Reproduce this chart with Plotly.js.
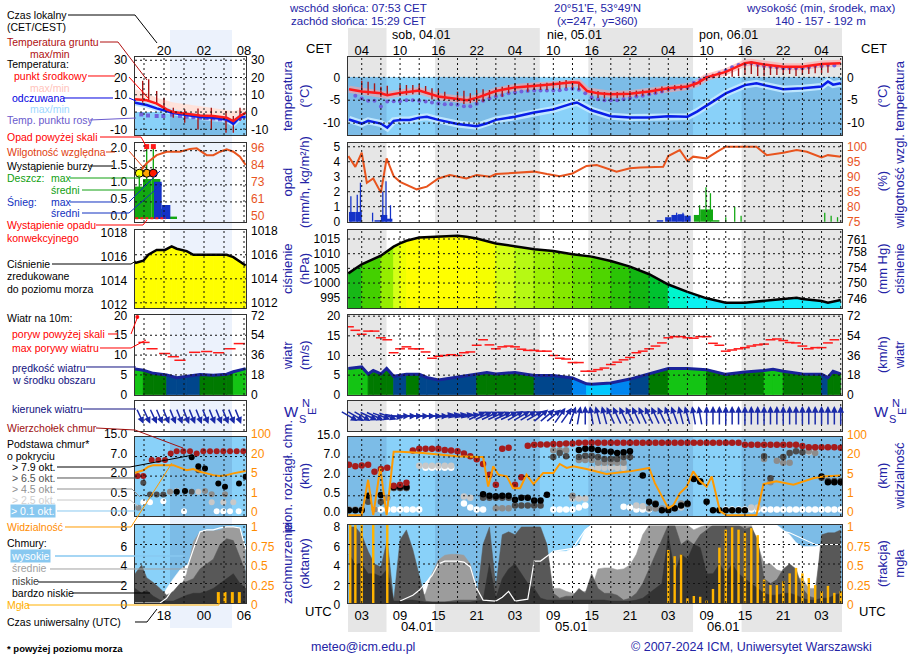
<!DOCTYPE html>
<html>
<head>
<meta charset="utf-8">
<script src="https://cdn.plot.ly/plotly-3.0.1.min.js"></script>
<style>html,body{margin:0;padding:0;background:#fff;}#chart{width:910px;height:660px;}</style>
</head>
<body>
<div id="chart"></div>
<script>
// ================= DATA (hours UTC counted from 00 UTC 04.01) =================
const sunriseUTC = [6.88, 30.88, 54.88];
const sunsetUTC  = [14.48, 38.48, 62.48];
const utcTickHours  = [3, 9, 15, 21, 27, 33, 39, 45, 51, 57, 63, 69, 75];
const utcTickLabels = ['03','09','15','21','03','09','15','21','03','09','15','21','03'];
const cetTickLabels = ['04','10','16','22','04','10','16','22','04','10','16','22','04'];
const dayLabels = ['sob, 04.01', 'nie, 05.01', 'pon, 06.01'];
const dayLabelHours = [7.35, 31.65, 55.5];
const dateLabels = ['04.01', '05.01', '06.01'];
const dateLabelHours = [11.7, 35.9, 59.6];

// temperature (°C)
const tempT = [1,3,6,7,9,12,15,18,19.5,21,24,27,30,33,36,37,38.3,40,42,45,48,51,54,55.5,57,60,63,64,66,69,72,75,78];
const tempV = [-2.6,-3.1,-3.5,-3.9,-3.4,-2.9,-4.2,-4.7,-5.0,-4.5,-3.0,-2.2,-1.9,-1.5,-1.1,-1.2,-3.0,-3.5,-3.7,-3.6,-3.1,-2.4,-2.0,-1.3,0,1.2,3.1,3.3,2.8,2.3,2.3,2.9,3.1];
const feelT = [1,3,4,6,7,8,9,10.5,12,13.2,15,18,21,22.5,24,27,30,33,36,36.7,39,42,45,48,51,54,55.5,57,60,63,64.8,66,69,72,75,76,76.8,78];
const feelV = [-9.2,-10.1,-9.5,-10.1,-11.0,-9.5,-9.3,-9.3,-8.8,-8.6,-9.3,-10.2,-10.7,-10.1,-9.3,-8.6,-7.7,-7.0,-5.7,-5.5,-7.2,-8.5,-8.8,-8.8,-8.5,-8.6,-7.5,-6.1,-3.5,-1.7,-1.3,-1.7,-2.6,-2.4,-2.0,-0.9,-1.6,-1.3];
const dewT = [2,3,4,5,6,7,8,9,10,11,12,13,14,15,16,17,18,19,20,21,22,23,24,25,26,27,28,29,30,31,32,33,34,35,36,37,38,39,40,41,42,43,44,45,46,47,48,49,50,51,52,53,54,55,56,57,58,59,60,61,62,63,64,65,66,67,68,69,70,71,72,73,74,75,76,77];
const dewV = [-4.0,-4.6,-5.1,-5.1,-6.4,-5.3,-5.2,-5.2,-5.0,-5.0,-5.1,-5.3,-5.5,-5.7,-5.9,-5.9,-6.0,-6.3,-6.3,-5.8,-5.1,-4.6,-4.2,-3.9,-3.5,-3.3,-3.1,-3.0,-2.9,-2.9,-2.9,-2.9,-2.8,-2.6,-2.5,-2.7,-3.5,-4.4,-4.8,-5.0,-5.0,-5.0,-4.8,-4.5,-4.2,-4.0,-3.7,-3.5,-3.1,-2.6,-2.4,-2.3,-2.2,-1.2,-0.6,0.0,0.3,0.9,1.5,2.2,2.7,2.9,3.1,2.7,2.5,2.3,2.2,2.0,2.0,2.0,2.0,2.2,2.5,2.5,2.7,2.6];
const gtT   = [3,4,5,6,7,9,10,11,12,13,14,15,16,18,19,20,21,22,23,24,25,26,27,29,30,31,32,33,34,35,36,37,39,40,41,42,43,44,45,46,47,48,49,50,51,52,53,54,55,56,57,58,59,60,61,62,63,64,65,66,67,68,69,70,71,72,73,74,75,76];
const gtMax = [-0.73,-0.95,-1.31,-2.04,-1.83,-1.68,-1.68,-1.68,-1.53,-1.9,-2.41,-2.63,-3.14,-3.14,-2.92,-3.5,-2.77,-2.63,-2.77,-2.19,-2.04,-1.68,-1.31,-1.31,-1.46,-1.31,-1.17,-0.95,-0.8,-0.58,-0.8,-1.17,-2.6,-3.0,-3.2,-3.2,-3.2,-3.1,-3.0,-2.9,-2.7,-2.6,-2.3,-2.0,-1.9,-1.7,-1.6,-1.5,-1.0,-0.5,0.3,0.8,1.1,1.5,1.61,1.97,2.92,3.07,2.7,2.48,2.48,2.34,2.34,2.34,2.19,2.34,2.48,2.7,2.92,2.92];
const gtMin = [-3.72,-3.87,-3.5,-4.23,-3.65,-4.09,-3.87,-3.72,-3.5,-3.5,-4.82,-4.96,-4.96,-5.33,-5.84,-5.69,-5.55,-5.33,-4.6,-4.23,-4.23,-3.5,-3.14,-3.14,-2.77,-2.77,-2.77,-2.63,-2.63,-2.41,-2.41,-2.77,-4.0,-4.5,-4.6,-4.6,-4.5,-4.4,-4.4,-4.2,-4.0,-3.9,-3.6,-3.3,-3.1,-2.9,-2.8,-2.7,-2.2,-1.6,-0.8,-0.2,0.1,0.3,0.15,0.29,0.51,0.73,0.29,0.29,0.51,0.51,0.51,0.73,0.29,0.51,0.73,0.88,0.88,1.02];

// precipitation (mm/h) and humidity (%)
const snowMeanT = [1.5,2.5,5.5,6.5,7.3,49.7,51,52,53,54];
const snowMeanV = [0.65,0.65,0.1,0.45,0.2,0.1,0.3,0.45,0.5,0.4];
const snowMaxT  = [1.3,2.3,2.8,4.7,6.3,6.8,7.5,52.3,53.3];
const snowMaxV  = [1.7,1.8,2.6,0.6,2.0,2.7,1.1,0.6,0.6];
const rainMeanT = [55.5,56.5,57.5,58.5];
const rainMeanV = [0.45,0.82,0.82,0.1];
const rainMaxT  = [55.9,56.9,57.6,60.0,61.4,62.4,75.5,76.5,77.5];
const rainMaxV  = [1.1,2.3,1.9,0.3,1.0,0.4,0.6,0.4,0.3];
const rhT = [0.9,2,3,3.8,4.8,6,6.9,8,9,11.6,13.2,15,16.8,19.4,21,23.1,24,27,30,32,34,36,38.2,39.8,42.9,45,46.6,50.2,51,52.8,54,54.9,57,58.6,60,64.8,66.4,69,71.1,72.7,75,76,78];
const rhV = [96.9,93.3,98,88,89.4,84.7,96.1,90.2,88.3,85.8,86.7,89.4,90.6,89.4,90.6,90,90.9,91.3,91.7,90.9,90.2,91.1,93.6,93.9,91.7,92.8,93.1,93.3,96.9,98.9,95.2,96.7,96.1,98.3,100,100,97.2,98,98.9,98.3,96.4,97.2,96.7];

// pressure (hPa)
const presT = [0.9,3,6,8,9,10,12,15,18,19.4,21,24,27,30,33,36,39,42,45,48,51,54,57,60,63,66,69,71.1,72,75,76,78];
const presV = [1003.3,1006.4,1009.3,1012.4,1013.5,1014.4,1015.5,1015.9,1016.1,1015.8,1015.2,1013.5,1012.4,1011.5,1010.9,1009.8,1009.0,1007.5,1005.6,1003.0,999.5,997.0,994.8,993.3,993.3,993.9,994.5,995.0,994.6,993.9,993.3,994.2];

// wind (m/s)
const windT = [0.9,3,4,4.8,6,6.9,8,10,12,13.2,15,18,21,22.6,24,27,30,33,36,38.2,39,42,45,48,51,54,57,60,63,66,67.4,69,72,75,76,76.8,78];
const windV = [6.7,7.1,5.3,6.2,5.3,6.7,4.7,5.2,5.2,4.4,3.8,4.6,5.3,5.7,5.3,5.7,4.9,4.9,4.3,2.8,2.7,3.0,4.0,5.3,6.7,6.7,6.4,5.2,5.8,6.2,6.5,6.0,5.3,5.2,4.4,6.0,5.3];
const gustT = [1,2,3,4,5,6,7,8,9,10,11,12,13,14,15,16,17,18,19,20,21,22,23,24,25,26,27,28,29,30,31,32,33,34,35,36,37,38,39,40,41,42,43,44,45,46,47,48,49,50,51,52,53,54,55,56,57,58,59,60,61,62,63,64,65,66,67,68,69,70,71,72,73,74,75,76,77];
const gustV = [17.3,16.4,15.4,16.2,16.2,14.5,14.0,10.7,11.7,12.2,11.7,11.7,10.9,9.3,9.8,10.0,10.2,10.0,10.7,10.9,12.6,14.0,12.7,11.7,12.2,12.4,12.2,11.6,11.3,11.3,11.1,11.1,10.0,9.3,9.1,8.2,8.2,6.0,6.0,6.4,6.8,7.7,8.3,8.9,9.5,10.7,11.1,11.7,12.4,13.2,14.5,14.8,14.8,14.5,14.4,14.8,14.8,13.1,12.6,11.1,11.4,11.7,12.0,12.4,12.7,12.9,14.0,14.2,13.8,13.3,13.2,12.4,11.7,12.0,12.0,13.2,14.0];
const dirT = [1,2,3,4,5,6,7,8,9,10,11,12,13,14,15,16,17,18,19,20,21,22,23,24,25,26,27,28,29,30,31,32,33,34,35,36,37,38,39,40,41,42,43,44,45,46,47,48,49,50,51,52,53,54,55,56,57,58,59,60,61,62,63,64,65,66,67,68,69,70,71,72,73,74,75,76,77,78];
const dirV = [300,300,300,295,295,290,290,280,270,270,270,270,270,270,270,260,260,260,260,260,245,245,245,245,245,245,240,240,240,240,230,230,230,215,215,200,190,180,170,165,165,155,155,155,155,155,155,155,155,155,160,160,165,165,170,170,180,180,180,180,180,180,180,180,180,180,180,180,180,180,180,180,180,180,180,180,180,180];

// clouds: tops and bases (km a.s.l.), visibility (km)
const ctopT = dirT;
const ctopH = [5.0,4.6,4.8,5.0,3.2,3.9,4.2,1.27,1.36,1.5,9.7,10.4,10.4,10.4,10.4,9.9,9.7,9.4,8.4,7.3,6.4,5.2,2.45,1.36,10.4,10.8,1.36,1.93,11.6,12.0,12.2,12.2,12.4,12.4,12.6,12.6,12.9,12.9,12.9,12.9,12.9,12.9,12.9,12.9,12.9,12.9,12.9,12.9,12.9,12.9,12.9,12.9,12.9,12.9,12.9,12.9,12.9,12.9,12.9,12.9,12.9,12.9,12.0,12.0,12.0,12.0,12.0,12.0,12.0,12.0,12.0,11.5,11.0,11.0,11.0,11.0,11.0,10.8];
const base79T = [1,2,3,4,6,8,9,10,22,23,24,25,26,27,28,29,30,31,32,37,38,39,40,41,42,43,44,45,47,48,49,50,51,52,53,54,55,56,57,58,59,60,61,62,63,75,76,77,78];
const base79H = [0.13,0.13,0.13,0.5,0.56,1.18,1.2,1.18,0.62,0.5,0.49,0.5,0.5,0.4,0.45,0.45,0.38,0.38,0.58,9.9,10.4,10.4,9.9,9.4,9.2,8.6,9.0,9.4,2.25,0.35,0.28,0.13,0.13,0.18,0.25,0.3,1.8,1.6,0.35,0.13,0.13,0.13,0.13,0.13,0.13,2.0,1.55,1.55,1.55];
const base65T = [4,6,8,9,10,22,23,24,25,26,27,28,29,30,31,33,34,35,37,38,39,40,41,42,43,44,45,49,54,56,66,67,69,70,71,72,75,76,77,78];
const base65H = [0.35,0.35,1.1,1.1,1.1,0.45,0.45,0.45,0.45,0.45,0.25,0.25,0.25,0.25,0.25,7.0,8.6,7.3,7.0,7.5,7.5,7.0,6.5,6.5,6.5,7.0,7.0,0.3,0.28,1.6,7.3,1.85,7.0,8.6,9.4,9.0,1.9,1.65,1.65,1.65];
const base45T = [1,2,3,5,7,9,10,24,25,26,33,34,35,36,37,38,39,40,41,42,43,44,48,49,50,51,52,53,66,67,68,69,70,73,74];
const base45H = [0.15,0.15,0.15,0.15,0.45,1.1,1.1,0.18,0.18,0.18,9.8,9.8,9.8,0.5,6.2,6.2,6.2,5.5,5.5,5.5,5.5,5.5,0.17,0.17,0.17,0.17,0.17,0.3,6.5,1.55,6.0,5.5,5.5,9.4,8.6];
const base25T = [6,12,13,14,15,16,17,19,20,36,37,38,39,40,41,42,43,44,46,47,53,64,65,73,74];
const base25H = [0.35,4.75,4.75,4.75,4.75,4.75,4.75,0.48,0.45,0.43,0.43,0.43,3.9,4.2,4.2,4.2,4.2,4.2,0.25,0.23,0.2,0.2,0.2,9.0,9.0];
const base01T = [5,6,7,8,9,10,11,12,13,14,15,16,17,19,20,21,22,33,34,35,36,37,38,44,45,46,47,48,60,61,62,63,64,65,66,67,68,69,70,71,72,73,74,75,76,77,78];
const base01H = [0.15,0.15,0.15,0.15,0.15,0.15,0.15,0.15,4.2,4.2,4.2,4.2,4.2,0.3,0.2,0.15,0.15,0.15,0.15,0.15,0.15,0.2,0.25,0.22,0.2,0.15,0.15,0.15,0.15,0.15,0.15,0.15,0.15,0.15,0.15,0.15,0.15,0.15,0.15,0.15,0.15,0.15,0.15,0.15,0.15,0.15,0.15];
const visT = [0.9,2,3,4,4.8,5.9,6.9,8,9,12.6,15.3,17.9,21.5,22,22.8,23.6,24.4,25.7,26.7,27.8,28.8,29.9,31.4,33,34,35.1,36.1,38.2,41.3,45,48,48.9,51,51.8,52.8,53.9,54.9,56,57,57.8,59.1,60.1,64.8,65.9,67.9,70.6,73.7,75.2,78];
const visV = [0,0,0,4.3,0,11.5,0,41.6,41.6,36,28,23.2,20,20,2.9,12.8,6.35,5.0,2.56,2.56,6.35,3.4,7.55,7.55,14.6,11.5,12.8,10.7,6.8,8.9,11.5,3.6,0.35,0.52,1.52,2.9,8.9,4.0,2.9,5.0,0.21,0,0,3.4,4.0,3.3,4.6,5.0,5.75];

// cloud cover (octas) and fog (fraction)
const ccT = dirT;
const ccHigh = [0,0,0,0,0,0,0,0,0,0,0.5,1.0,2.0,3.0,3.2,3.0,2.5,2.0,1.5,1.0,0.5,0.3,0.3,0.3,0.5,1.0,1.5,2.0,3.0,4.4,4.6,4.7,5.3,5.3,5.3,5.6,6.0,7.5,8,8,8,8,8,8,8,8,8,8,8,8,8,8,8,8,8,8,8,8,8,8,8,8,8,8,8,8,8,8,7.5,7.0,6.2,5.8,5.8,5.8,6.0,6.2,6.5,6.5];
const ccMid  = [0,0,0,0,0,0,0,0,0,0,0,0.3,1.0,3.0,4.4,4.9,5.0,5.0,4.9,4.0,1.5,0.3,0.3,0.5,1.5,2.0,2.0,2.0,1.5,1.0,1.0,1.0,1.5,1.5,1.2,1.0,1.0,1.2,1.5,3.5,3.6,3.6,3.4,3.5,3.9,5.0,7.0,8,8,8,8,8,8,8,7.5,7.8,8,8,8,8,8,8,8,8,6.0,4.0,4.0,3.4,3.2,3.2,2.6,2.5,1.5,1.5,6.0,6.5,6.5,6.5];
const ccLow  = [7.8,7.8,7.0,5.3,4.0,3.7,6.5,0.2,6.5,7.5,5.5,3.0,0.2,0.1,0.1,0.1,0.2,0.3,0.3,0.3,0.3,6.0,7.8,1.7,7.0,7.3,7.0,7.8,7.8,7.8,7.8,6.0,1.0,0.5,0.7,0.7,1.5,1.0,3.0,1.5,1.0,1.0,0.8,0.3,0.5,1.0,2.0,3.5,5.0,6.5,8,8,6.0,6.5,6.0,7.0,7.5,8,8,8,8,8,7.6,7.8,6.5,2.5,2.0,2.4,3.5,4.0,3.5,1.5,0.7,0.5,7.0,7.2,7.2,7.5];
const ccVlow = [5,4,4,3,3,2.7,3.5,0.2,0.2,0.3,0.3,0.2,0.1,0.1,0.1,0.1,0.1,0.1,0.1,0.1,0.2,0.3,4.0,0.5,2.5,3.5,4.0,3.0,2.0,1.5,0.5,0.3,0.3,0.3,0.3,0.3,0.3,0.3,0.3,0.3,0.3,0.2,0.2,0.2,0.2,0.3,0.5,1.0,1.5,2.0,7.0,3.0,5.0,4.5,6.0,5.7,3.0,3.0,4.0,3.0,4.0,3.0,2.5,2.0,1.5,1.0,0.8,0.8,1.0,1.0,0.8,0.5,0.3,0.3,0.5,0.5,0.8,1.0];
const highLineT = [9,11,12,13,14,15,16,18,19,20,21,22,24,25,26,27,29,30,31,32,33,36,38,39,65,66,70,74,75,76,78];
const highLineV = [0.2,0.8,1.3,2.0,2.8,4.0,4.3,4.3,4.2,3.7,1.5,0.3,0.2,0.6,1.2,0.2,0.4,4.3,4.3,4.8,5.3,5.6,7.5,8.0,8.0,7.8,7.2,6.0,6.0,6.0,6.0];
const fogT = [1.2,2,3,4.8,7,51,52,53,54,55,56,57,58,59,60,61,62,63,64,65,66,67,68,69,70,71,72,73,74,75,76,77,78];
const fogV = [1,1,1,1,1,0.68,0.6,0.62,0.06,0.09,0.08,0.03,0.18,0.71,0.94,0.97,0.94,0.9,0.96,0.87,0.3,0.23,0.23,0.28,0.38,0.45,0.38,0.32,0.23,0.15,0.22,0.13,0.15];

// ---------- legend mini-chart sample data (hours on the mini time axis) ----------
const miniTickHours = [20, 26, 32];
const miniCetLabels = ['20','02','08'];
const miniUtcLabels = ['18','00','06'];
const miniNight = [20.9, 30.2];
const miniTempT = [15.65,17.4,18.9,20.4,21.4,23.4,25.4,27.4,29.4,30.4,31.4,32.25];
const miniTempV = [7.4,6.8,4.9,1.6,0,-1,-2,-2.3,-3.3,-5.2,-2.3,-0.4];
const miniTempMax = [13.2,11,8.3,6.5,5.5,4.5,3.5,2.5,1.2,0.6,1.5,2.5];
const miniFeelV = [5.4,4.1,2.1,0.6,-0.5,-1.7,-2.9,-3.3,-4.3,-6.8,-2.9,-2.9];
const miniDewT = [16.6,17.6,18.9,19.9,21.2,22.4,23.4,24.4,25.4,26.4,27.4,28.4,29.4,30.4,31.4];
const miniDewV = [-1.4,-2.0,-2.3,-2.3,-1.5,-2.3,-2.7,-3.0,-3.3,-3.5,-3.7,-4.2,-4.8,-5.4,-3.5];
const miniGtT = [16.8,17.7,18.9,20.0,21.4,23.1,25.1,27.1,29.3,30.4,31.4];
const miniGtMax = [18.1,19.0,12.2,8.3,2.5,1.6,2.1,2.5,0.6,-2.3,2.5];
const miniGtMin = [5.4,6.4,4.5,2.5,-3.3,-6.2,-10.1,-10.1,-12,-12,-5.2];
const miniRhT = [15.65,16.4,17.4,18.9,20.4,22.4,23.9,24.9,26.4,27.4,28.4,29.4,30.4,31.4,32.25];
const miniRhV = [80.7,81.9,87.5,93,95.3,95.3,97.2,97.6,93,93,95.3,96.9,95.3,91.9,86.4];
const miniRainT = [16.2,17.5,18.8,20.1,21.3];
const miniRainV = [0.95,1.17,1.17,0.3,0.07];
const miniSnowT = [19.0,20.3];
const miniSnowV = [1.09,0.41];
const miniRainMaxT = [16.3,17.4,18.4];
const miniRainMaxV = [1.34,2.1,2.1];
const miniStormT = [16.3,17.4,18.4];
const miniStormColors = ['#ffff00','#ffa500','#ff1a00'];
const miniOverT = [17.4,18.4];
const miniPresT = [15.65,16.9,17.65,18.9,20.15,21.15,21.9,23.4,24.4,27.4,29.4,30.4,32.25];
const miniPresV = [1015.3,1015.5,1016.0,1016.4,1016.4,1016.7,1016.5,1016.3,1016.0,1016.0,1016.0,1015.8,1015.1];
const miniWindT = [15.65,16.9,18.4,20.4,21.9,23.4,25.4,27.4,29.4,30.4,32.25];
const miniWindV = [6.5,6.2,5.4,5.0,4.3,4.6,5.1,4.9,5.2,5.8,6.6];
const miniGustT = [17.0,18.2,20.1,21.4,22.4,24.6,26.4,28.2,29.9,31.3];
const miniGustV = [13.2,11.6,10.4,9.6,8.7,10.7,10.9,10.6,11.6,12.9];
const miniGustOverT = [16.0];
const miniDirT = [16.4,17.4,18.4,19.3,20.3,21.3,22.3,23.3,24.2,25.2,26.2,27.2,28.2,29.2,30.1,31.1,32.0];
const miniDirV = [335,335,335,337,337,338,338,338,338,338,338,338,338,338,338,338,338];
const miniTopT = [16.05,16.9,18.15,19.15,20.15,21.0,21.9,22.9,23.9,24.9,25.9,26.9,27.9,28.9,29.9,30.9,31.9];
const miniTopH = [2.0,2.0,6.1,6.1,6.1,8.3,9.2,9.2,9.2,8.3,9.2,9.2,9.2,9.2,9.2,9.2,9.2];
const miniVisT = [15.65,16.9,17.65,18.4,21.4,22.4,23.4,24.4,25.4,26.4,27.4,28.4,29.4,30.4,32.25];
const miniVisV = [7.55,9.5,12.2,13.4,13.4,11.3,9.5,10.4,8.3,7.1,5.75,5.0,5.75,7.1,8.9];
const miniB79T = [21.9,23.15,24.15,25.15,26.15,28.15,29.15,31.25,32.25];
const miniB79H = [0.8,0.85,6.8,4.55,3.95,1.43,1.18,1.43,1.95];
const miniB65T = [16.9,17.9,18.9,19.9,21.9,24.15,25.15];
const miniB65H = [1.49,0.59,0.59,0.59,0.8,0.8,3.5];
const miniB45T = [16.15,20.9,23.15,26.15,27.15,29.15];
const miniB45H = [0.19,0.8,0.85,0.85,0.6,0.6];
const miniB25T = [20.9,21.9,25.15,27.15,28.9,30.4];
const miniB25H = [0.8,0.85,0.8,0.33,0.33,0.33];
const miniB01T = [16.9,17.9,19.9,23.0,27.9,28.9,29.9,31.2];
const miniB01H = [0.33,0.33,0.36,0.1,0.1,0.1,0.1,0.1];
const miniCcT = [15.65,16.65,17.4,18.4,19.4,20.4,21.4,22.4,23.4,24.4,25.4,26.4,27.4,28.4,29.4,30.4,31.4,32.25];
const miniCcHigh = [0,0,0,0,0.3,1.5,2.5,3.4,3.9,3.8,3.0,2.5,2.0,2.0,2.0,2.0,2.0,2.0];
const miniCcMid  = [2.0,2.2,2.0,1.5,1.0,0.5,1.0,1.5,3.0,6.3,7.3,7.4,7.4,7.5,7.8,7.8,7.7,5.3];
const miniCcLow  = [3.0,3.9,2.6,2.1,1.5,0.8,1.2,2.0,2.2,2.5,3.5,4.0,4.5,6.0,6.6,6.4,4.7,3.2];
const miniCcVlow = [1.5,1.0,1.3,0.7,0.3,0.2,0.2,0.5,0.8,1.0,1.0,1.2,1.5,2.0,2.5,3.0,2.0,1.5];
const miniHighLine = [0,0,0,0,0,0.5,1.5,2.5,3.5,5.5,7.3,7.5,7.5,7.7,7.8,7.8,7.7,5.5];
const miniFogT = [28.15,29.15,30.25,31.3];
const miniFogV = [0.14,0.14,0.14,0.14];

// ================= LAYOUT / STYLE =================
const F = '"Liberation Sans", Arial, Helvetica, sans-serif';
const NAVY = '#2323a6';
const W = 910, H = 660;
const PX = p => p / W, PY = p => 1 - p / H;
const PAN = {temp:[57,135], precip:[143,222], pres:[230,308], wind:[315,395], dir:[401,431], ch:[437,516], cc:[525,603]};
const dom = k => [PY(PAN[k][1]), PY(PAN[k][0])];
const MAIN_XPX = [348, 842], MINI_XPX = [135, 246];
const MAIN_RANGE = [0.85, 78.2], MINI_RANGE = [15.65, 32.3];
const mainPxPerH = (MAIN_XPX[1]-MAIN_XPX[0])/(MAIN_RANGE[1]-MAIN_RANGE[0]);
const miniPxPerH = (MINI_XPX[1]-MINI_XPX[0])/(MINI_RANGE[1]-MINI_RANGE[0]);
const R = {
  temp:[-12.6,4.44], precip:[-0.02,5.25], pres:[991.5,1018.07], wind:[-0.05,20.3], dir:[-1,1], ch:[-0.04,4.03], cc:[0,8],
  mtemp:[-13.3,31.9], mprecip:[-0.088,2.225], mpres:[1011.57,1018.06], mwind:[-0.05,20.1], mch:[-0.04,4.0]
};
const rhMain = p => 75 + 5*p, rhMini = p => 50 + 23*p;
const CH_STOPS = [0, 0.5, 2, 7, 15];
const VIS_STOPS = [0, 1, 5, 20, 100];
function toLevel(v, st){ for(let i=0;i<st.length-1;i++){ if(v<=st[i+1]) return i+(v-st[i])/(st[i+1]-st[i]); } return st.length-1; }
const lvl = arr => arr.map(v=>toLevel(v, CH_STOPS));
const vlvl = arr => arr.map(v=>toLevel(v, VIS_STOPS));

const NIGHT_GRAY = '#e6e6e6', DAY_BLUE = '#89d1f9', NIGHT_BLUE = '#7cbce7';
const traces = [], shapes = [], ann = [];

function tr(o, xa, ya){ traces.push(Object.assign({type:'scatter', xaxis:xa, yaxis:ya, hoverinfo:'skip', showlegend:false}, o)); }
function bars(T, V, w, color, xa, ya){ traces.push({type:'bar', x:T, y:V, width:w, marker:{color:color, line:{width:0}}, xaxis:xa, yaxis:ya, hoverinfo:'skip', showlegend:false}); }
function rgb(c){ return 'rgb('+c.map(v=>Math.round(v)).join(',')+')'; }
const PRES_STOPS = [[992,[48,216,240]],[995,[16,240,255]],[998,[0,248,216]],[1000,[0,224,128]],[1002,[0,176,0]],[1005,[24,184,24]],[1007,[48,200,0]],[1009,[96,220,0]],[1011,[152,238,0]],[1012.5,[200,255,32]],[1014,[240,255,0]],[1015,[255,255,0]]];
function presColor(p){
  if(p<=PRES_STOPS[0][0]) return rgb(PRES_STOPS[0][1]);
  for(let i=0;i<PRES_STOPS.length-1;i++){ const a=PRES_STOPS[i], b=PRES_STOPS[i+1];
    if(p<=b[0]){ const f=(p-a[0])/(b[0]-a[0]); return rgb(a[1].map((c,j)=>c+(b[1][j]-c)*f)); } }
  return rgb(PRES_STOPS[PRES_STOPS.length-1][1]);
}
function windColor(v){ if(v<3) return '#00c8ff'; if(v<3.5) return '#00a4f8'; if(v<4) return '#0086f0'; if(v<5) return '#00468c'; if(v<6.1) return '#007a00'; return '#14c414'; }
function bandPolys(T, V, base, colorFn, xa, ya){
  for(let i=0;i<T.length-1;i++){ const c = colorFn((V[i]+V[i+1])/2);
    tr({mode:'lines', x:[T[i],T[i],T[i+1],T[i+1],T[i]], y:[base,V[i],V[i+1],base,base], fill:'toself', fillcolor:c, line:{width:0.8,color:c}}, xa, ya); }
}
function segs(T, A, B){ const x=[],y=[]; T.forEach((t,i)=>{ x.push(t,t,null); y.push(A[i],B[i],null); }); return {x,y}; }
function gridTrace(xa, ya, xs, yr, ys, xr){
  const x=[], y=[];
  xs.forEach(v=>{ x.push(v,v,null); y.push(yr[0],yr[1],null); });
  ys.forEach(v=>{ x.push(xr[0],xr[1],null); y.push(v,v,null); });
  tr({mode:'lines', x, y, line:{color:'#111', width:1, dash:'2px,3px'}}, xa, ya);
}
function rect(xref, x0, x1, yref, y0, y1, color){ shapes.push({type:'rect', xref, yref, x0, x1, y0, y1, fillcolor:color, line:{width:0}, layer:'below'}); }
function nights(range){ const out=[]; let s=range[0]; for(let i=0;i<sunriseUTC.length;i++){ out.push([s, sunriseUTC[i]]); s=sunsetUTC[i]; } out.push([s, range[1]]); return out; }
function lead(pts, color, w){ shapes.push({type:'path', xref:'paper', yref:'paper', layer:'above', line:{color, width:w||1},
  path:'M '+pts.map(p=>PX(p[0]).toFixed(5)+','+PY(p[1]).toFixed(5)).join(' L ')}); }
function txt(x, y, s, color, opt){ ann.push(Object.assign({xref:'paper', yref:'paper', x:PX(x), y:PY(y), text:s, showarrow:false, xanchor:'left', yanchor:'middle', font:{family:F, size:10.5, color:color||'#000'}}, opt||{})); }
function arrows(T, D, xa, ya, pxPerH, L, color){
  T.forEach((t,i)=>{ const b=((D[i]+180)%360)*Math.PI/180; const dx=L*Math.sin(b), dy=-L*Math.cos(b);
    ann.push({xref:xa, yref:ya, x:t+0.5*dx/pxPerH, y:-0.5*dy/15, ax:-dx, ay:-dy, axref:'pixel', ayref:'pixel', text:'', showarrow:true,
      arrowhead:2, arrowsize:0.9, arrowwidth:1.5, arrowcolor:color, standoff:0, startstandoff:0}); });
}

// ---------- backgrounds ----------
const mainNights = nights(MAIN_RANGE);
rect('x2', miniNight[0], miniNight[1], 'paper', PY(628), PY(30), '#ecf2fc');
mainNights.forEach(([a,b])=>{ rect('x',a,b,'paper',PY(57),PY(28),NIGHT_GRAY); rect('x',a,b,'paper',PY(632),PY(603),NIGHT_GRAY); });
['precip','pres','wind','dir'].forEach(k=>mainNights.forEach(([a,b])=>rect('x',a,b,'paper',PY(PAN[k][1]),PY(PAN[k][0]),NIGHT_GRAY)));
mainNights.forEach(([a,b])=>rect('x',a,b,'y',0,R.temp[1],NIGHT_GRAY));
rect('x',MAIN_RANGE[0],MAIN_RANGE[1],'y',R.temp[0],0,DAY_BLUE);
mainNights.forEach(([a,b])=>rect('x',a,b,'y',R.temp[0],0,NIGHT_BLUE));
[['y10',R.ch],['y12',R.cc]].forEach(([ya,rg])=>{ rect('x',MAIN_RANGE[0],MAIN_RANGE[1],ya,rg[0],rg[1],DAY_BLUE); mainNights.forEach(([a,b])=>rect('x',a,b,ya,rg[0],rg[1],NIGHT_BLUE)); });
[['y14',[R.mtemp[0],0]],['y23',R.mch],['y25',R.cc]].forEach(([ya,rg])=>{ rect('x2',MINI_RANGE[0],MINI_RANGE[1],ya,rg[0],rg[1],DAY_BLUE); rect('x2',miniNight[0],miniNight[1],ya,rg[0],rg[1],NIGHT_BLUE); });

// ---------- MAIN: temperature ----------
tr({mode:'lines', x:tempT, y:tempV, line:{color:'rgba(255,160,160,0.6)', width:7}}, 'x','y');
tr({mode:'lines', x:feelT, y:feelV, line:{color:'rgba(195,232,255,0.95)', width:7}}, 'x','y');
tr({mode:'markers', x:dewT, y:dewV, marker:{color:'#7060dc', size:4}}, 'x','y');
tr(Object.assign({mode:'lines', line:{color:'#a51818', width:1.4}}, segs(gtT, gtMax, gtMin)), 'x','y');
tr({mode:'lines', x:feelT, y:feelV, line:{color:'#0a1ee8', width:2.5}}, 'x','y');
tr({mode:'lines', x:tempT, y:tempV, line:{color:'#ff1a1a', width:2.5}}, 'x','y');
// ---------- MAIN: precipitation & humidity ----------
bars(snowMeanT, snowMeanV, 1, '#1432c8', 'x','y3');
bars(snowMaxT, snowMaxV, 0.2, '#1432c8', 'x','y3');
bars(rainMeanT, rainMeanV, 1, '#12a812', 'x','y3');
bars(rainMaxT, rainMaxV, 0.2, '#12a812', 'x','y3');
tr({mode:'lines', x:rhT, y:rhV, line:{color:'#e8541e', width:2}}, 'x','y4');
// ---------- MAIN: pressure ----------
bandPolys(presT, presV, R.pres[0], presColor, 'x','y5');
tr({mode:'lines', x:presT, y:presV, line:{color:'#000', width:2.5}}, 'x','y5');
// ---------- MAIN: wind ----------
bandPolys(windT, windV, 0, windColor, 'x','y7');
tr({mode:'lines', x:windT, y:windV, line:{color:'#1a239a', width:3}}, 'x','y7');
tr({mode:'markers', x:gustT, y:gustV, marker:{symbol:'line-ew', size:7, line:{color:'#ff1a1a', width:1.5}}}, 'x','y7');
// ---------- MAIN: wind direction ----------
tr({mode:'markers', x:[dirT[0]], y:[null]}, 'x','y9');
arrows(dirT, dirV, 'x','y9', mainPxPerH, 20, '#1a2aa8');
// ---------- MAIN: cloud heights & visibility ----------
const dot = (T, Hh, c, s) => tr({mode:'markers', x:T, y:lvl(Hh), marker:{color:c, size:s||6.5, line:{width:0}}}, 'x','y10');
dot(base01T, base01H, '#ffffff'); dot(base25T, base25H, '#c8c8c8'); dot(base45T, base45H, '#8c8c8c');
dot(base65T, base65H, '#4d4d4d'); dot(base79T, base79H, '#000000'); dot(ctopT, ctopH, '#a61c1c');
tr({mode:'lines', x:visT, y:vlvl(visV), line:{color:'#ff9a00', width:2}}, 'x','y11');
// ---------- MAIN: cloud cover & fog ----------
[[ccHigh,'#ffffff'],[ccMid,'#9c9c9c'],[ccLow,'#585858'],[ccVlow,'#333333']].forEach(([v,c])=>
  tr({mode:'lines', x:ccT, y:v, fill:'tozeroy', fillcolor:c, line:{width:0.5, color:c}}, 'x','y12'));
tr({mode:'lines', x:highLineT, y:highLineV, line:{color:'#ffffff', width:1.2}}, 'x','y12');
bars(fogT, fogV, 0.38, '#ffb400', 'x','y13');

// ---------- MINI legend chart ----------
tr({mode:'lines', x:miniTempT.concat(miniTempT.slice().reverse()), y:miniTempMax.concat(miniTempV.slice().reverse()), fill:'toself', fillcolor:'#ffe2da', line:{width:0}}, 'x2','y14');
tr({mode:'lines', x:miniTempT, y:miniFeelV, line:{color:'rgba(195,232,255,0.95)', width:6}}, 'x2','y14');
tr({mode:'markers', x:miniDewT, y:miniDewV, marker:{color:'#7060dc', size:4, symbol:'square'}}, 'x2','y14');
tr(Object.assign({mode:'lines', line:{color:'#a51818', width:1.4}}, segs(miniGtT, miniGtMax, miniGtMin)), 'x2','y14');
tr({mode:'lines', x:miniTempT, y:miniFeelV, line:{color:'#0a1ee8', width:2.5}}, 'x2','y14');
tr({mode:'lines', x:miniTempT, y:miniTempV, line:{color:'#ff1a1a', width:2.5}}, 'x2','y14');
bars(miniRainT, miniRainV, 1.3, '#12a812', 'x2','y16');
bars(miniSnowT, miniSnowV, 1.3, '#1432c8', 'x2','y16');
tr(Object.assign({mode:'lines', line:{color:'#12a812', width:1.4}}, segs(miniRainMaxT, miniRainMaxT.map(()=>0), miniRainMaxV)), 'x2','y16');
tr({mode:'lines', x:[miniRainT[0]-0.5, miniSnowT[1]], y:[0.02,0.02], line:{color:'#ff1a1a', width:2, dash:'3px,2px'}}, 'x2','y16');
tr({mode:'lines', x:miniRhT, y:miniRhV, line:{color:'#e8541e', width:2}}, 'x2','y17');
tr({mode:'markers', x:miniStormT, y:miniStormT.map(()=>rhMini(1.34)), marker:{color:miniStormColors, size:8, line:{color:'#000', width:1}}}, 'x2','y17');
tr({mode:'markers', x:miniOverT, y:miniOverT.map(()=>rhMini(2.12)), marker:{color:'#ff1a1a', size:5, symbol:'square'}}, 'x2','y17');
bandPolys(miniPresT, miniPresV, R.mpres[0], presColor, 'x2','y18');
tr({mode:'lines', x:miniPresT, y:miniPresV, line:{color:'#000', width:2.5}}, 'x2','y18');
bandPolys(miniWindT, miniWindV, 0, windColor, 'x2','y20');
tr({mode:'lines', x:miniWindT, y:miniWindV, line:{color:'#1a239a', width:3}}, 'x2','y20');
tr({mode:'markers', x:miniGustT, y:miniGustV, marker:{symbol:'line-ew', size:8, line:{color:'#ff1a1a', width:1.5}}}, 'x2','y20');
tr({mode:'markers', x:miniGustOverT, y:[19.6], marker:{color:'#ff1a1a', size:4}}, 'x2','y20');
tr({mode:'markers', x:[miniDirT[0]], y:[null]}, 'x2','y22');
arrows(miniDirT, miniDirV, 'x2','y22', miniPxPerH, 17, '#1a2aa8');
const mdot = (T, Hh, c) => tr({mode:'markers', x:T, y:lvl(Hh), marker:{color:c, size:6, line:{width:0}}}, 'x2','y23');
mdot(miniB01T, miniB01H, '#ffffff'); mdot(miniB25T, miniB25H, '#c8c8c8'); mdot(miniB45T, miniB45H, '#8c8c8c');
mdot(miniB65T, miniB65H, '#4d4d4d'); mdot(miniB79T, miniB79H, '#000000'); mdot(miniTopT, miniTopH, '#a61c1c');
tr({mode:'lines', x:miniVisT, y:vlvl(miniVisV), line:{color:'#ff9a00', width:2}}, 'x2','y24');
[[miniCcHigh,'#ffffff'],[miniCcMid,'#9c9c9c'],[miniCcLow,'#585858'],[miniCcVlow,'#333333']].forEach(([v,c])=>
  tr({mode:'lines', x:miniCcT, y:v, fill:'tozeroy', fillcolor:c, line:{width:0.5, color:c}}, 'x2','y25'));
tr({mode:'lines', x:miniCcT, y:miniHighLine, line:{color:'#ffffff', width:1.2}}, 'x2','y25');
bars(miniFogT, miniFogV, 0.45, '#ffb400', 'x2','y26');

// dummy traces so the top time axes exist
tr({mode:'markers', x:[MAIN_RANGE[0]], y:[null]}, 'x3','y');
tr({mode:'markers', x:[MINI_RANGE[0]], y:[null]}, 'x4','y14');

// ---------- grids (drawn over the fills, like the original) ----------
const mainGridH = []; for(let h=3; h<=78; h+=3) mainGridH.push(h);
const miniGridH = [17, 20, 23, 26, 29, 32];
gridTrace('x','y2', mainGridH, R.temp, [-10,-5,0], MAIN_RANGE);
gridTrace('x','y4', mainGridH, R.precip.map(rhMain), [1,2,3,4,5].map(rhMain), MAIN_RANGE);
gridTrace('x','y6', mainGridH, R.pres, [995,1000,1005,1010,1015], MAIN_RANGE);
gridTrace('x','y8', mainGridH, R.wind, [5,10,15,20], MAIN_RANGE);
gridTrace('x','y9', mainGridH, R.dir, [], MAIN_RANGE);
gridTrace('x','y11', mainGridH, R.ch, [1,2,3], MAIN_RANGE);
gridTrace('x','y13', mainGridH, [0,1], [0.25,0.5,0.75], MAIN_RANGE);
gridTrace('x2','y15', miniGridH, R.mtemp, [-10,0,10,20,30], MINI_RANGE);
gridTrace('x2','y17', miniGridH, R.mprecip.map(rhMini), [0.5,1,1.5,2].map(rhMini), MINI_RANGE);
gridTrace('x2','y19', miniGridH, R.mpres, [1012,1014,1016], MINI_RANGE);
gridTrace('x2','y21', miniGridH, R.mwind, [5,10,15], MINI_RANGE);
gridTrace('x2','y22', miniGridH, R.dir, [], MINI_RANGE);
gridTrace('x2','y24', miniGridH, R.mch, [1,2,3], MINI_RANGE);
gridTrace('x2','y26', miniGridH, [0,1], [0.25,0.5,0.75], MINI_RANGE);

// ---------- axes ----------
const tf = c => ({family:F, size:12, color:c||'#000'});
function LA(k, range, tv, tt, anchor, extra){ return Object.assign({domain:dom(k), range, anchor, side:'left', tickvals:tv, ticktext:tt, showgrid:false, zeroline:false, showline:true, mirror:true, linecolor:'#333', linewidth:1.3, ticks:'', ticklabelstandoff:4, tickfont:tf(), fixedrange:true}, extra||{}); }
function RA(over, range, tv, tt, anchor, color, extra){ return Object.assign({overlaying:over, range, anchor, side:'right', tickvals:tv, ticktext:tt, showgrid:false, zeroline:false, showline:false, ticks:'', ticklabelstandoff:4, tickfont:tf(color), fixedrange:true}, extra||{}); }
const s = a => a.map(String);
const UP = {ticklabelshift:-3}, DOWN = {ticklabelshift:2};
const layout = {
  width:W, height:H, margin:{l:0,r:0,t:0,b:0}, paper_bgcolor:'#ffffff', plot_bgcolor:'rgba(0,0,0,0)',
  showlegend:false, barmode:'overlay', hovermode:false, font:{family:F, size:12, color:'#000'},
  xaxis:{domain:[PX(MAIN_XPX[0]),PX(MAIN_XPX[1])], range:MAIN_RANGE, anchor:'y12', side:'bottom', tickvals:utcTickHours, ticktext:utcTickLabels, showgrid:false, zeroline:false, showline:true, mirror:'all', linecolor:'#333', linewidth:1.3, ticks:'', ticklabelstandoff:0, tickfont:{family:F,size:13}, fixedrange:true},
  xaxis3:{overlaying:'x', range:MAIN_RANGE, anchor:'y', side:'top', tickvals:utcTickHours, ticktext:cetTickLabels, showgrid:false, zeroline:false, showline:false, ticks:'', ticklabelstandoff:-2, tickfont:{family:F,size:13}, fixedrange:true},
  xaxis2:{domain:[PX(MINI_XPX[0]),PX(MINI_XPX[1])], range:MINI_RANGE, anchor:'y25', side:'bottom', tickvals:miniTickHours, ticktext:miniUtcLabels, showgrid:false, zeroline:false, showline:true, mirror:'all', linecolor:'#333', linewidth:1.3, ticks:'', ticklabelstandoff:0, tickfont:{family:F,size:13}, fixedrange:true},
  xaxis4:{overlaying:'x2', range:MINI_RANGE, anchor:'y14', side:'top', tickvals:miniTickHours, ticktext:miniCetLabels, showgrid:false, zeroline:false, showline:false, ticks:'', ticklabelstandoff:-2, tickfont:{family:F,size:13}, fixedrange:true},
  yaxis:  LA('temp', R.temp, [-10,-5,0], ['-10','-5','0'], 'x'),
  yaxis2: RA('y', R.temp, [-10,-5,0], ['-10','-5','0'], 'x'),
  yaxis3: LA('precip', R.precip, [0,1,2,3,4,5], s([0,1,2,3,4,5]), 'x'),
  yaxis4: RA('y3', R.precip.map(rhMain), [75,80,85,90,95,100], s([75,80,85,90,95,100]), 'x', '#e8541e'),
  yaxis5: LA('pres', R.pres, [995,1000,1005,1010,1015], s([995,1000,1005,1010,1015]), 'x'),
  yaxis6: RA('y5', R.pres, [994.58,999.92,1005.25,1010.58,1014.58], ['746','750','754','758','761'], 'x'),
  yaxis7: LA('wind', R.wind, [0,5,10,15,20], s([0,5,10,15,20]), 'x'),
  yaxis8: RA('y7', R.wind, [0,5,10,15,20], ['0','18','36','54','72'], 'x'),
  yaxis9: LA('dir', R.dir, [], [], 'x', {showticklabels:false}),
  yaxis10: LA('ch', R.ch, [0,1,2,3,4], ['0.0','0.5','2.0','7.0','15.0'], 'x', UP),
  yaxis11: RA('y10', R.ch, [0,1,2,3,4], ['0','1','5','20','100'], 'x', '#ff8c00', UP),
  yaxis12: LA('cc', R.cc, [0,2,4,6,8], s([0,2,4,6,8]), 'x', DOWN),
  yaxis13: RA('y12', [0,1], [0,0.25,0.5,0.75,1], ['0','0.25','0.5','0.75','1'], 'x', '#ff8c00', DOWN),
  yaxis14: LA('temp', R.mtemp, [-10,0,10,20,30], s([-10,0,10,20,30]), 'x2'),
  yaxis15: RA('y14', R.mtemp, [-10,0,10,20,30], s([-10,0,10,20,30]), 'x2'),
  yaxis16: LA('precip', R.mprecip, [0,0.5,1,1.5,2], ['0.0','0.5','1.0','1.5','2.0'], 'x2', UP),
  yaxis17: RA('y16', R.mprecip.map(rhMini), [0,0.5,1,1.5,2].map(rhMini), ['50','61','73','84','96'], 'x2', '#e8541e', UP),
  yaxis18: LA('pres', R.mpres, [1012,1014,1016,1018], s([1012,1014,1016,1018]), 'x2', DOWN),
  yaxis19: RA('y18', R.mpres, [1012,1014,1016,1018], s([1012,1014,1016,1018]), 'x2', DOWN),
  yaxis20: LA('wind', R.mwind, [0,5,10,15,20], s([0,5,10,15,20]), 'x2'),
  yaxis21: RA('y20', R.mwind, [0,5,10,15,20], ['0','18','36','54','72'], 'x2'),
  yaxis22: LA('dir', R.dir, [], [], 'x2', {showticklabels:false}),
  yaxis23: LA('ch', R.mch, [0,1,2,3,4], ['0.0','0.5','2.0','7.0','15.0'], 'x2', UP),
  yaxis24: RA('y23', R.mch, [0,1,2,3,4], ['0','1','5','20','100'], 'x2', '#ff8c00', UP),
  yaxis25: LA('cc', R.cc, [0,2,4,6,8], s([0,2,4,6,8]), 'x2', DOWN),
  yaxis26: RA('y25', [0,1], [0,0.25,0.5,0.75,1], ['0','0.25','0.5','0.75','1'], 'x2', '#ff8c00', DOWN),
  shapes, annotations: ann
};

// ---------- texts ----------
const hf = c => ({family:F, size:11.5, color:c});
txt(358, 8, 'wschód słońca: 07:53 CET', NAVY, {xanchor:'center', font:hf(NAVY)});
txt(358, 21, 'zachód słońca: 15:29 CET', NAVY, {xanchor:'center', font:hf(NAVY)});
txt(597, 8, "20°51'E, 53°49'N", NAVY, {xanchor:'center', font:hf(NAVY)});
txt(597, 21, '(x=247,  y=360)', NAVY, {xanchor:'center', font:hf(NAVY)});
txt(820, 8, 'wysokość (min, środek, max)', NAVY, {xanchor:'center', font:hf(NAVY)});
txt(820, 21, '140 - 157 - 192 m', NAVY, {xanchor:'center', font:hf(NAVY)});
txt(319, 48, 'CET', '#000', {xanchor:'center', font:{family:F,size:13,color:'#000'}});
txt(874, 48, 'CET', '#000', {xanchor:'center', font:{family:F,size:13,color:'#000'}});
txt(318, 611, 'UTC', '#000', {xanchor:'center', font:{family:F,size:13,color:'#000'}});
txt(872, 611, 'UTC', '#000', {xanchor:'center', font:{family:F,size:13,color:'#000'}});
dayLabels.forEach((d,i)=>ann.push({xref:'x', yref:'paper', x:dayLabelHours[i], y:PY(35), text:d, showarrow:false, xanchor:'left', yanchor:'middle', font:{family:F,size:12.5,color:'#000'}}));
dateLabels.forEach((d,i)=>ann.push({xref:'x', yref:'paper', x:dateLabelHours[i], y:PY(626), text:d, showarrow:false, xanchor:'center', yanchor:'middle', font:{family:F,size:13,color:'#000'}}));
txt(363, 647, 'meteo@icm.edu.pl', NAVY, {xanchor:'center', font:{family:F,size:12.5,color:NAVY}});
txt(751, 647, '© 2007-2024 ICM, Uniwersytet Warszawski', NAVY, {xanchor:'center', font:{family:F,size:12.5,color:NAVY}});
const vt = (x, y, s) => txt(x, y, s, NAVY, {xanchor:'center', textangle:-90, font:{family:F,size:13,color:NAVY}});
vt(296, 96, 'temperatura<br>(°C)'); vt(296, 182, 'opad<br>(mm/h, kg/m²/h)'); vt(296, 269, 'ciśnienie<br>(hPa)');
vt(296, 355, 'wiatr<br>(m/s)'); vt(296, 476, 'pion. rozciągł. chm.<br>(km)'); vt(296, 564, 'zachmurzenie<br>(oktanty)');
vt(891, 96, '(°C)<br>temperatura'); vt(891, 182, '(%)<br>wilgotność wzgl.'); vt(891, 269, '(mm Hg)<br>ciśnienie');
vt(891, 355, '(km/h)<br>wiatr'); vt(891, 476, '(km)<br>widzialność'); vt(891, 564, '(frakcja)<br>mgła');
[0, 590].forEach(ox=>{
  txt(291+ox, 411, 'W', NAVY, {xanchor:'center', font:{family:F,size:15,color:NAVY}});
  txt(306+ox, 403, 'N', NAVY, {xanchor:'center', font:{family:F,size:11,color:NAVY}});
  txt(302+ox, 419, 'S', NAVY, {xanchor:'center', font:{family:F,size:11,color:NAVY}});
  txt(312+ox, 412, 'E', NAVY, {xanchor:'center', textangle:-90, font:{family:F,size:11,color:NAVY}});
});

// legend column
const LG = [
  [5,15,'Czas lokalny','#000'],[5,27,'(CET/CEST)','#000'],
  [5,42,'Temperatura gruntu','#b01010'],[28,54,'max/min','#b01010'],
  [5,64,'Temperatura:','#000'],[12,76,'punkt środkowy','#ff0000'],[28,88,'max/min','#ffc4bc'],
  [10,98,'odczuwana','#0000e0'],[28,109,'max/min','#9cd8ff'],[5,120,'Temp. punktu rosy','#6a5acd'],
  [5,137,'Opad powyżej skali','#ff0000'],[5,152,'Wilgotność względna','#e04010'],[5,166,'Wystąpienie burzy','#000'],
  [5,178,'Deszcz:','#10a010'],[49,178,'max','#10a010'],[49,190,'średni','#10a010'],
  [5,202,'Śnieg:','#1030c0'],[49,202,'max','#1030c0'],[49,213,'średni','#1030c0'],
  [5,225,'Wystąpienie opadu','#ff0000'],[5,238,'konwekcyjnego','#ff0000'],
  [5,264,'Ciśnienie','#000'],[5,276,'zredukowane','#000'],[5,289,'do poziomu morza','#000'],
  [5,318,'Wiatr na 10m:','#000'],[10,334,'poryw powyżej skali','#ff0000'],[10,348,'max porywy wiatru','#ff0000'],
  [10,368,'prędkość wiatru','#101080'],[10,380,'w środku obszaru','#101080'],[10,409,'kierunek wiatru','#101080'],
  [5,428,'Wierzchołek chmur','#a01010'],[5,444,'Podstawa chmur*','#000'],[5,456,'o pokryciu','#000'],
  [10,467,'> 7.9 okt.','#000'],[10,478,'> 6.5 okt.','#505050'],[10,489,'> 4.5 okt.','#909090'],[10,500,'> 2.5 okt.','#d0d0d0'],
  [5,527,'Widzialność','#ff8c00'],[5,543,'Chmury:','#000'],[10,568,'średnie','#a0a0a0'],[10,581,'niskie','#404040'],
  [10,593,'bardzo niskie','#000'],[5,605,'Mgła','#ffb000'],[5,622,'Czas uniwersalny (UTC)','#000']
];
LG.forEach(([x,y,t,c])=>txt(x,y,t,c));
txt(10, 511, '> 0.1 okt.', '#ffffff', {bgcolor:'#88c8f0', borderpad:0});
txt(10, 556, 'wysokie', '#ffffff', {bgcolor:'#88c8f0', borderpad:0});
txt(5, 648, '<b>* powyżej poziomu morza</b>', '#000', {font:{family:F,size:9.5,color:'#000'}});

// leader lines
lead([[68,15],[135,15],[157,43]], '#000');
lead([[100,42],[118,42],[147,80]], '#b01010');
lead([[88,76],[115,76]], '#ff0000'); lead([[129,77],[149,99]], '#ff0000');
lead([[64,98],[113,98]], '#0000e0'); lead([[129,98],[136,101]], '#0000e0');
lead([[90,120],[136,118]], '#6a5acd');
lead([[100,137],[141,137],[146,146]], '#ff0000');
lead([[106,152],[115,152]], '#e04010'); lead([[129,151],[143,167]], '#e04010');
lead([[90,166],[113,166]], '#000'); lead([[129,166],[137,171]], '#000');
lead([[70,178],[139,178],[139,175]], '#10a010');
lead([[82,190],[136,190]], '#10a010');
lead([[70,202],[113,202]], '#1030c0'); lead([[129,202],[160,171]], '#1030c0');
lead([[82,213],[129,213],[162,184]], '#1030c0');
lead([[96,225],[143,225],[147,220]], '#ff0000');
lead([[52,264],[131,264],[136,261]], '#000');
lead([[108,334],[118,334]], '#ff0000'); lead([[131,334],[138,316]], '#ff0000');
lead([[100,348],[131,348],[146,340]], '#ff0000');
lead([[86,367],[136,367]], '#101080');
lead([[83,409],[136,409]], '#101080');
lead([[96,428],[135,430],[183,448]], '#a01010');
lead([[57,467],[130,467],[193,455]], '#000');
lead([[57,478],[136,478]], '#505050');
lead([[57,489],[132,489],[140,497]], '#909090');
lead([[57,500],[130,500],[138,506]], '#c8c8c8');
lead([[57,511],[136,511]], '#88c8f0');
lead([[65,527],[131,527],[172,463]], '#ff9a00');
lead([[55,556],[185,556]], '#88c8f0', 1.5);
lead([[50,569],[190,569]], '#a0a0a0');
lead([[38,582],[125,582]], '#000');
lead([[73,593],[150,593]], '#000');
lead([[27,605],[219,605],[219,597]], '#ffb000');
lead([[135,622],[147,622],[157,609]], '#000');

Plotly.newPlot('chart', traces, layout, {staticPlot:true, displayModeBar:false});
</script>
</body>
</html>
